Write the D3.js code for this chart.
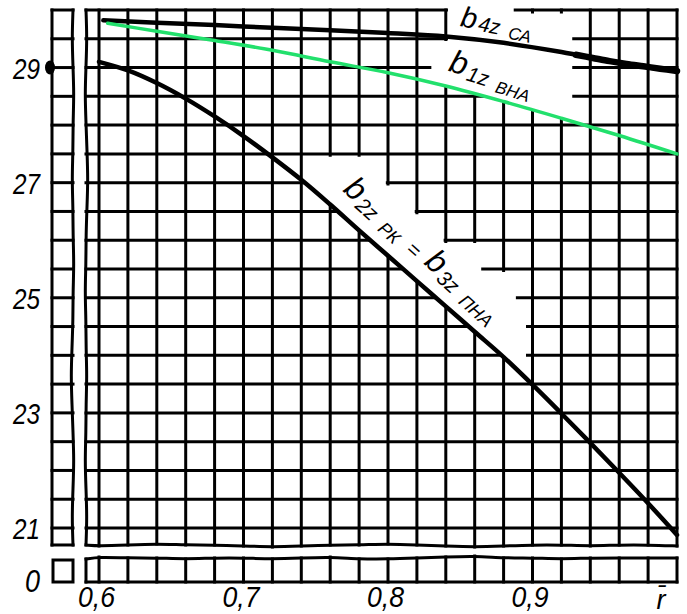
<!DOCTYPE html>
<html><head><meta charset="utf-8">
<script src="https://cdn.jsdelivr.net/npm/d3@7"></script>
<style>
html,body{margin:0;padding:0;background:#fff;}
svg{display:block;}
text{font-family:"Liberation Sans",Arial,sans-serif;font-style:italic;fill:#000;}
</style></head><body>
<svg id="chart" width="687" height="614"></svg>
<script>
// ---------------- data ----------------
const yTicks = [21, 23, 25, 27, 29];
const yTickLabels = ["21", "23", "25", "27", "29"];
const xTicks = [0.6, 0.7, 0.8, 0.9];
const xTickLabels = ["0,6", "0,7", "0,8", "0,9"];
const xAxisTitle = "r̄";
const zeroLabel = "0";

// b4z СА (top black curve)
const rB4 = [0.603, 0.64, 0.68, 0.72, 0.76, 0.80, 0.84, 0.88, 0.92, 0.96, 1.00];
const b4  = [29.82, 29.78, 29.74, 29.69, 29.65, 29.60, 29.54, 29.43, 29.27, 29.08, 28.94];

// b1z ВНА (green curve)
const rB1 = [0.606, 0.64, 0.68, 0.72, 0.76, 0.80, 0.84, 0.88, 0.92, 0.96, 1.00];
const b1  = [29.77, 29.63, 29.47, 29.30, 29.10, 28.91, 28.68, 28.41, 28.12, 27.82, 27.50];

// b2z РК = b3z ПНА (lower black curve)
const rB2 = [0.60, 0.62, 0.64, 0.66, 0.68, 0.70, 0.72, 0.74, 0.76, 0.78, 0.80,
             0.82, 0.84, 0.86, 0.88, 0.90, 0.92, 0.94, 0.96, 0.98, 1.00];
const b2  = [29.10, 28.95, 28.73, 28.46, 28.15, 27.81, 27.44, 27.05, 26.62, 26.17, 25.73,
             25.29, 24.85, 24.41, 23.97, 23.49, 22.99, 22.48, 21.96, 21.43, 20.88];

// ---------------- layout ----------------
const W = 687, H = 614;
const xDomain = [0.6, 1.0], yDomain = [21, 30];
const xRange = [99, 677], yRange = [528, 10];
const gridStep = {x: 0.02, y: 0.5};
const frameLeftR = 0.591, frameBottomB = 20.705;
const leftStrip = {x0: 52, x1: 73};
const bottomStrip = {y0: 558, y1: 582};
const gridW = 3, curveW = 4.5, greenW = 3.5, thickEndW = 6.5, thickFrom = 0.93;
const green = "#22e06c";
// hand-drawn wobble of the broken-axis edges (pixels)
const wobbleBottom = [0, 1, 0, -1, 0, 0, 1, 2, 1, 0, 0, -1, 0, 1, 2, 1, 0, 0, 1, 0, 0, 1];
const wobbleStrip  = [1, -1, 0, 0, 1, 0, 0, 1, 0, -1, 1, 1, 0, -1, -2, 0, 0, 1, 0, 0, 0, 0];
const wobbleLeft   = [0, 1, 0, -1, 0, 1, 2, 1, 0, 0, -1, 0, 0, 1, 0, 0, -1, 0, 1, 0];

const svg = d3.select("#chart");
svg.append("rect").attr("width", W).attr("height", H).attr("fill", "#fff");

const x = d3.scaleLinear().domain(xDomain).range(xRange);
const y = d3.scaleLinear().domain(yDomain).range(yRange);

const xGrid = d3.range(0, Math.round((xDomain[1] - xDomain[0]) / gridStep.x) + 1).map(i => xDomain[0] + i * gridStep.x);
const yGrid = d3.range(0, Math.round((yDomain[1] - yDomain[0]) / gridStep.y) + 1).map(i => yDomain[0] + i * gridStep.y);

const g = svg.append("g").attr("stroke", "#000").attr("stroke-width", gridW).attr("fill", "none").attr("stroke-linecap", "square");
const wavy = d3.line().curve(d3.curveBasis);

// main grid: horizontal
g.selectAll("line.h").data(yGrid).join("line")
  .attr("x1", x(frameLeftR)).attr("x2", x(xDomain[1]))
  .attr("y1", d => y(d)).attr("y2", d => y(d));
// main grid: vertical
g.selectAll("line.v").data(xGrid).join("line")
  .attr("x1", d => x(d)).attr("x2", d => x(d))
  .attr("y1", y(yDomain[1])).attr("y2", (d, i) => y(frameBottomB) + wobbleBottom[i + 1]);
// frame left (wavy)
const leftYs = d3.range(0, wobbleLeft.length).map(i => y(yDomain[1]) + i * (y(frameBottomB) - y(yDomain[1])) / (wobbleLeft.length - 1));
g.append("path").attr("d", wavy(leftYs.map((yy, i) => [x(frameLeftR) + wobbleLeft[i], yy])));
// frame bottom (wavy)
const bottomXs = [frameLeftR].concat(xGrid);
g.append("path").attr("d", wavy(bottomXs.map((r, i) => [x(r), y(frameBottomB) + wobbleBottom[i]])));

// left broken strip
g.selectAll("line.lh").data(yGrid).join("line")
  .attr("x1", leftStrip.x0).attr("x2", leftStrip.x1)
  .attr("y1", d => y(d)).attr("y2", d => y(d));
g.append("line").attr("x1", leftStrip.x0).attr("x2", leftStrip.x0).attr("y1", y(yDomain[1])).attr("y2", y(frameBottomB));
g.append("path").attr("d", wavy(leftYs.map((yy, i) => [leftStrip.x1 - wobbleLeft[wobbleLeft.length - 1 - i], yy])));
g.append("line").attr("x1", leftStrip.x0).attr("x2", leftStrip.x1).attr("y1", y(frameBottomB)).attr("y2", y(frameBottomB));

// bottom broken strip
g.selectAll("line.bv").data(bottomXs).join("line")
  .attr("x1", d => x(d)).attr("x2", d => x(d))
  .attr("y1", (d, i) => bottomStrip.y0 + wobbleStrip[i]).attr("y2", bottomStrip.y1);
g.append("path").attr("d", wavy(bottomXs.map((r, i) => [x(r), bottomStrip.y0 + wobbleStrip[i]])));
g.append("line").attr("x1", x(frameLeftR)).attr("x2", x(xDomain[1])).attr("y1", bottomStrip.y1).attr("y2", bottomStrip.y1);
// small zero square
g.append("rect").attr("x", leftStrip.x0 + 1).attr("y", bottomStrip.y0 + 2)
  .attr("width", leftStrip.x1 - leftStrip.x0 - 1).attr("height", bottomStrip.y1 - bottomStrip.y0 - 2);

// ---------------- masks (erased grid around labels) ----------------
function at(xs, ys, v) {
  return d3.scaleLinear().domain(xs).range(ys)(v);
}
function along(xs, ys, from, to, n) {
  return d3.range(n + 1).map(i => { const v = from + (to - from) * i / n; return [v, at(xs, ys, v)]; });
}
const mask1 = [[0.8415, 30.3], [0.887, 30.3], [0.887, 29.94], [0.9275, 29.94]]
  .concat(along(rB1, b1, 0.9275, 0.830, 12))
  .concat([[0.830, 29.46], [0.8415, 29.46]]);
const mask2 = [[0.7415, 27.45], [0.7985, 27.45], [0.7985, 26.95], [0.8185, 26.95], [0.8185, 26.45],
  [0.8385, 26.45], [0.8385, 25.95], [0.8645, 25.95], [0.8645, 25.45], [0.8885, 25.45], [0.8885, 24.95], [0.8955, 24.95]]
  .concat(along(rB2, b2, 0.8955, 0.7415, 16));
[mask1, mask2].forEach(m => {
  svg.append("path").attr("fill", "#fff")
    .attr("d", d3.line().x(d => x(d[0])).y(d => y(d[1]))(m) + "Z");
});

// ---------------- curves ----------------
const line = d3.line().x(d => x(d[0])).y(d => y(d[1])).curve(d3.curveCatmullRom.alpha(0.5));
const top4 = rB4.map((r, i) => [r, b4[i]]);
svg.append("path").attr("d", line(top4))
  .attr("fill", "none").attr("stroke", "#000").attr("stroke-width", curveW).attr("stroke-linecap", "round");
svg.append("path").attr("d", line(along(rB4, b4, thickFrom, 1.0, 6)))
  .attr("fill", "none").attr("stroke", "#000").attr("stroke-width", thickEndW).attr("stroke-linecap", "round");
svg.append("path").attr("d", line(rB2.map((r, i) => [r, b2[i]])))
  .attr("fill", "none").attr("stroke", "#000").attr("stroke-width", curveW).attr("stroke-linecap", "round");
svg.append("path").attr("d", line(rB1.map((r, i) => [r, b1[i]])))
  .attr("fill", "none").attr("stroke", green).attr("stroke-width", greenW).attr("stroke-linecap", "round");

// ---------------- axes ----------------
const yAxis = d3.axisLeft(y).tickValues(yTicks).tickSize(0).tickPadding(0).tickFormat((d, i) => yTickLabels[i]);
const ya = svg.append("g").attr("transform", "translate(40,0)").call(yAxis);
ya.select(".domain").remove();
ya.selectAll("text").attr("font-size", 30).attr("font-family", "Liberation Sans, Arial, sans-serif")
  .attr("font-style", "italic").attr("dy", "0.36em")
  .attr("textLength", 27).attr("lengthAdjust", "spacingAndGlyphs");
svg.append("text").text(zeroLabel).attr("x", 40).attr("y", 592)
  .attr("text-anchor", "end").attr("font-size", 32).attr("textLength", 15).attr("lengthAdjust", "spacingAndGlyphs");
// marker on axis at 29
svg.append("ellipse").attr("cx", 50).attr("cy", y(29)).attr("rx", 5).attr("ry", 7).attr("fill", "#000");

const xAxis = d3.axisBottom(x).tickValues(xTicks).tickSize(0).tickPadding(0).tickFormat((d, i) => xTickLabels[i]);
const xa = svg.append("g").attr("transform", "translate(-3,607)").call(xAxis);
xa.select(".domain").remove();
xa.selectAll("text").attr("font-size", 29).attr("font-family", "Liberation Sans, Arial, sans-serif")
  .attr("font-style", "italic").attr("dy", 0).attr("y", 0)
  .attr("textLength", 37).attr("lengthAdjust", "spacingAndGlyphs");
svg.append("text").text(xAxisTitle).attr("x", x(0.989)).attr("y", 609).attr("text-anchor", "middle")
  .attr("font-family", "DejaVu Sans, Liberation Sans, sans-serif").attr("font-size", 27);

// ---------------- curve labels ----------------
function label(pos, angle, parts) {
  const t = svg.append("text").attr("transform", `translate(${x(pos[0])},${y(pos[1])}) rotate(${angle})`);
  parts.forEach(p => t.append("tspan").text(p.t).attr("font-size", p.s).attr("dy", p.dy || 0).attr("dx", p.dx || 0));
}
label([0.8495, 29.72], 11, [{t: "b", s: 29}, {t: "4z", s: 21, dy: 1, dx: 2}, {t: "СА", s: 17, dy: 2, dx: 9}]);
label([0.8412, 28.95], 17, [{t: "b", s: 32}, {t: "1z", s: 21, dy: 4, dx: 2}, {t: "ВНА", s: 17, dy: 3, dx: 9}]);
label([0.7682, 26.86], 42, [{t: "b", s: 32}, {t: "2z", s: 21, dy: 4, dx: 2}, {t: "РК", s: 18, dy: 2, dx: 10},
  {t: "=", s: 21, dy: -3, dx: 12}, {t: "b", s: 32, dy: -3, dx: 10}, {t: "3z", s: 21, dy: 4, dx: 2}, {t: "ПНА", s: 18, dy: 2, dx: 10}]);
</script>
</body></html>
